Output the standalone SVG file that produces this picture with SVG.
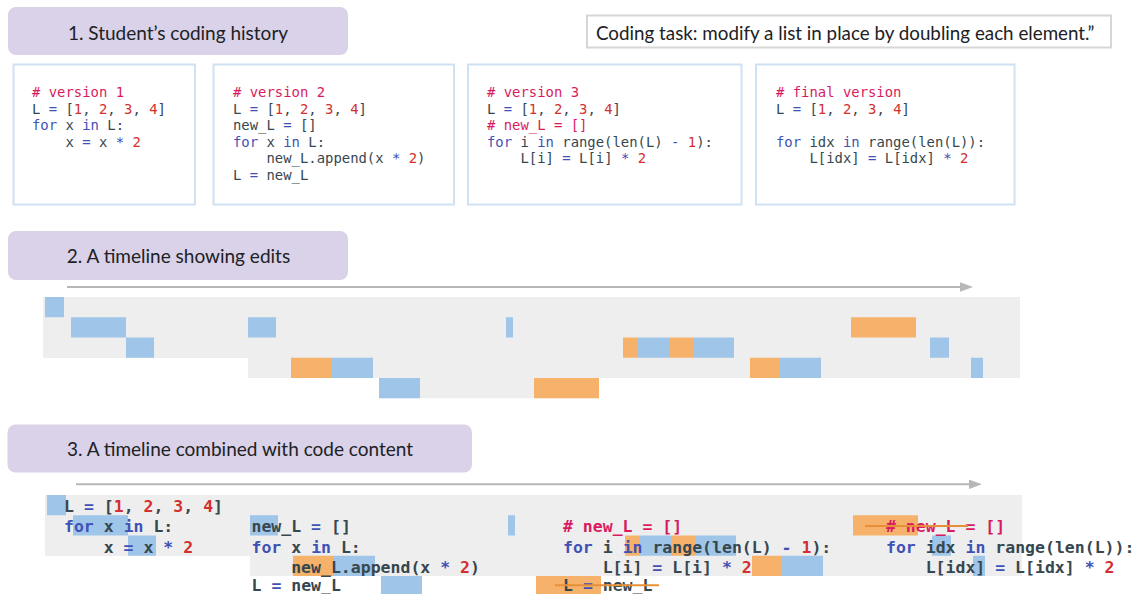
<svg xmlns="http://www.w3.org/2000/svg" width="1141" height="594" viewBox="0 0 1141 594">
<style>
.title{fill:#d9d2e9}
.tt{font-family:Lato,"Liberation Sans",sans-serif;font-size:19px;fill:#202124;text-anchor:middle}
.task{font-family:Lato,"Liberation Sans",sans-serif;font-size:18.8px;fill:#202124}
.box{fill:#ffffff;stroke:#cfe2f3;stroke-width:2}
.c1{font-family:"DejaVu Sans Mono","Liberation Mono",monospace;font-size:13.9px;fill:#37474f;white-space:pre}
.c3{font-family:"DejaVu Sans Mono","Liberation Mono",monospace;font-size:16.5px;font-weight:bold;fill:#37474f;white-space:pre}
.k{fill:#3f51b5}.n{fill:#d32f2f}.m{fill:#d81b60}
.bg{fill:#eeeeee}
.b{fill:#9fc5e8}.o{fill:#f6b26b}
.ax{stroke:#b7b7b7;stroke-width:2;fill:none}
.st{stroke:#e69138;stroke-width:2}
</style>
<defs>
<marker id="ah" markerUnits="userSpaceOnUse" markerWidth="14" markerHeight="10" refX="0" refY="4.7" orient="auto">
<path d="M0,0 L13,4.7 L0,9.4 z" fill="#b7b7b7"/>
</marker>
</defs>

<!-- Section 1 -->
<g id="title1"><rect class="title" x="8" y="7" width="340" height="48" rx="8"/><text class="tt" x="178" y="39.5">1. Student’s coding history</text></g>
<g id="task"><rect x="587" y="15.5" width="524" height="32" fill="#fff" stroke="#d6d6d6" stroke-width="2"/><text class="task" x="596" y="39.5">Coding task: modify a list in place by doubling each element.”</text></g>

<g id="version1">
<rect class="box" x="13.5" y="64.5" width="181.5" height="140"/>
<text class="c1" x="32" y="97"><tspan class="m"># version 1</tspan></text>
<text class="c1" x="32" y="113.6">L <tspan class="k">=</tspan> [<tspan class="n">1</tspan>, <tspan class="n">2</tspan>, <tspan class="n">3</tspan>, <tspan class="n">4</tspan>]</text>
<text class="c1" x="32" y="130.2"><tspan class="k">for</tspan> x <tspan class="k">in</tspan> L:</text>
<text class="c1" x="65.5" y="146.8">x <tspan class="k">=</tspan> x <tspan class="k">*</tspan> <tspan class="n">2</tspan></text>
</g>
<g id="version2">
<rect class="box" x="213.5" y="64.5" width="240.5" height="140"/>
<text class="c1" x="233" y="97"><tspan class="m"># version 2</tspan></text>
<text class="c1" x="233" y="113.6">L <tspan class="k">=</tspan> [<tspan class="n">1</tspan>, <tspan class="n">2</tspan>, <tspan class="n">3</tspan>, <tspan class="n">4</tspan>]</text>
<text class="c1" x="233" y="130.2">new_L <tspan class="k">=</tspan> []</text>
<text class="c1" x="233" y="146.8"><tspan class="k">for</tspan> x <tspan class="k">in</tspan> L:</text>
<text class="c1" x="266.5" y="163.4">new_L.append(x <tspan class="k">*</tspan> <tspan class="n">2</tspan>)</text>
<text class="c1" x="233" y="180">L <tspan class="k">=</tspan> new_L</text>
</g>
<g id="version3">
<rect class="box" x="468" y="64.5" width="273.5" height="140"/>
<text class="c1" x="487" y="97"><tspan class="m"># version 3</tspan></text>
<text class="c1" x="487" y="113.6">L <tspan class="k">=</tspan> [<tspan class="n">1</tspan>, <tspan class="n">2</tspan>, <tspan class="n">3</tspan>, <tspan class="n">4</tspan>]</text>
<text class="c1" x="487" y="130.2"><tspan class="m"># new_L = []</tspan></text>
<text class="c1" x="487" y="146.8"><tspan class="k">for</tspan> i <tspan class="k">in</tspan> range(len(L) <tspan class="k">-</tspan> <tspan class="n">1</tspan>):</text>
<text class="c1" x="520.5" y="163.4">L[i] <tspan class="k">=</tspan> L[i] <tspan class="k">*</tspan> <tspan class="n">2</tspan></text>
</g>
<g id="final">
<rect class="box" x="756" y="64.5" width="258.5" height="140"/>
<text class="c1" x="776" y="97"><tspan class="m"># final version</tspan></text>
<text class="c1" x="776" y="113.6">L <tspan class="k">=</tspan> [<tspan class="n">1</tspan>, <tspan class="n">2</tspan>, <tspan class="n">3</tspan>, <tspan class="n">4</tspan>]</text>
<text class="c1" x="776" y="146.8"><tspan class="k">for</tspan> idx <tspan class="k">in</tspan> range(len(L)):</text>
<text class="c1" x="809.5" y="163.4">L[idx] <tspan class="k">=</tspan> L[idx] <tspan class="k">*</tspan> <tspan class="n">2</tspan></text>
</g>

<!-- Section 2 -->
<g id="title2"><rect class="title" x="8" y="231" width="340" height="49" rx="8"/><text class="tt" x="178.5" y="263">2. A timeline showing edits</text></g>
<g id="timeline2">
<rect class="bg" x="43" y="297" width="977" height="61"/>
<rect class="bg" x="248" y="357.75" width="772" height="20.25"/>
<rect class="bg" x="379" y="377.5" width="220" height="20.75"/>
<rect class="b" x="45" y="297" width="19" height="20.25"/>
<rect class="b" x="71" y="317.25" width="55" height="20.25"/>
<rect class="b" x="248" y="317.25" width="28" height="20.25"/>
<rect class="b" x="506" y="317.25" width="7" height="20.25"/>
<rect class="o" x="851" y="317.25" width="65" height="20.25"/>
<rect class="b" x="126" y="337.5" width="28" height="20.25"/>
<rect class="o" x="623" y="337.5" width="14" height="20.25"/>
<rect class="b" x="637" y="337.5" width="32" height="20.25"/>
<rect class="o" x="669" y="337.5" width="24" height="20.25"/>
<rect class="b" x="693" y="337.5" width="41" height="20.25"/>
<rect class="b" x="930" y="337.5" width="19" height="20.25"/>
<rect class="o" x="291" y="357.75" width="41" height="20.25"/>
<rect class="b" x="332" y="357.75" width="41" height="20.25"/>
<rect class="o" x="750" y="357.75" width="30" height="20.25"/>
<rect class="b" x="780" y="357.75" width="41" height="20.25"/>
<rect class="b" x="971" y="357.75" width="12" height="20.25"/>
<rect class="b" x="379" y="378" width="41" height="20.25"/>
<rect class="o" x="534" y="378" width="65" height="20.25"/>
</g>

<!-- Section 3 -->
<g id="title3"><rect class="title" x="7.5" y="424.5" width="464.5" height="48" rx="8"/><text class="tt" x="240" y="456">3. A timeline combined with code content</text></g>
<g id="timeline3">
<rect class="bg" x="45" y="495" width="977" height="61"/>
<rect class="bg" x="250" y="555.75" width="772" height="20.25"/>
<rect class="b" x="47" y="495" width="19" height="20.25"/>
<rect class="b" x="73" y="515.25" width="55" height="20.25"/>
<rect class="b" x="250" y="515.25" width="28" height="20.25"/>
<rect class="b" x="508" y="515.25" width="7" height="20.25"/>
<rect class="o" x="853" y="515.25" width="65" height="20.25"/>
<rect class="b" x="128" y="535.5" width="28" height="20.25"/>
<rect class="o" x="625" y="535.5" width="14" height="20.25"/>
<rect class="b" x="639" y="535.5" width="32" height="20.25"/>
<rect class="o" x="671" y="535.5" width="24" height="20.25"/>
<rect class="b" x="695" y="535.5" width="41" height="20.25"/>
<rect class="b" x="932" y="535.5" width="19" height="20.25"/>
<rect class="o" x="293" y="555.75" width="41" height="20.25"/>
<rect class="b" x="334" y="555.75" width="41" height="20.25"/>
<rect class="o" x="752" y="555.75" width="30" height="20.25"/>
<rect class="b" x="782" y="555.75" width="41" height="20.25"/>
<rect class="b" x="973" y="555.75" width="12" height="20.25"/>
<rect class="b" x="381" y="576" width="41" height="20.25"/>
<rect class="o" x="536" y="576" width="65" height="20.25"/>
</g>
<g id="code3">
<text class="c3" x="64" y="512.2">L <tspan class="k">=</tspan> [<tspan class="n">1</tspan>, <tspan class="n">2</tspan>, <tspan class="n">3</tspan>, <tspan class="n">4</tspan>]</text>
<text class="c3" x="64" y="532.4"><tspan class="k">for</tspan> x <tspan class="k">in</tspan> L:</text>
<text class="c3" x="103.7" y="552.7">x <tspan class="k">=</tspan> x <tspan class="k">*</tspan> <tspan class="n">2</tspan></text>
<text class="c3" x="251.5" y="532.4">new_L <tspan class="k">=</tspan> []</text>
<text class="c3" x="251.5" y="552.7"><tspan class="k">for</tspan> x <tspan class="k">in</tspan> L:</text>
<text class="c3" x="291.2" y="572.9">new_L.append(x <tspan class="k">*</tspan> <tspan class="n">2</tspan>)</text>
<text class="c3" x="251.5" y="590.8">L <tspan class="k">=</tspan> new_L</text>
<text class="c3" x="563" y="532.4"><tspan class="m"># new_L = []</tspan></text>
<text class="c3" x="563" y="552.7"><tspan class="k">for</tspan> i <tspan class="k">in</tspan> range(len(L) <tspan class="k">-</tspan> <tspan class="n">1</tspan>):</text>
<text class="c3" x="602.7" y="572.9">L[i] <tspan class="k">=</tspan> L[i] <tspan class="k">*</tspan> <tspan class="n">2</tspan></text>
<text class="c3" x="563" y="590.8">L <tspan class="k">=</tspan> new_L</text>
<text class="c3" x="886" y="532.4"><tspan class="m"># new_L = []</tspan></text>
<text class="c3" x="886" y="552.7"><tspan class="k">for</tspan> idx <tspan class="k">in</tspan> range(len(L)):</text>
<text class="c3" x="925.7" y="572.9">L[idx] <tspan class="k">=</tspan> L[idx] <tspan class="k">*</tspan> <tspan class="n">2</tspan></text>
<line class="st" x1="555" y1="585.3" x2="659" y2="585.3"/>
<line class="st" x1="865" y1="526" x2="968" y2="526"/>
</g>

<g id="connectors">
<line class="ax" x1="67" y1="287" x2="960" y2="287" marker-end="url(#ah)"/>
<line class="ax" x1="76" y1="484.3" x2="969" y2="484.3" marker-end="url(#ah)"/>
</g>
</svg>
